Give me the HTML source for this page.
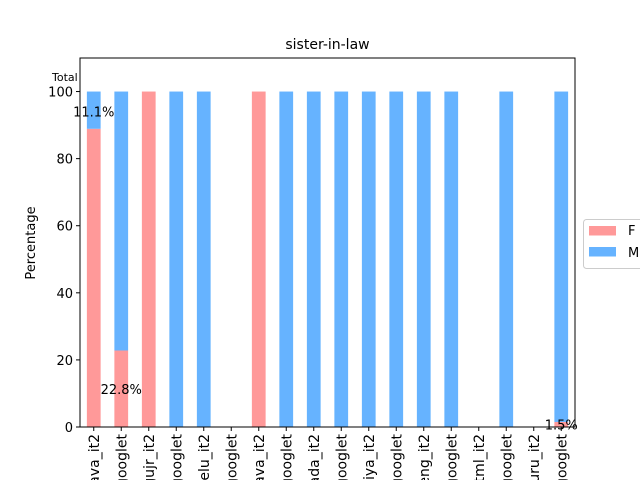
<!DOCTYPE html>
<html><head><meta charset="utf-8"><style>
html,body{margin:0;background:#fff;width:640px;height:480px;overflow:hidden;}
svg{display:block;font-family:"DejaVu Sans","Liberation Sans",sans-serif;overflow:hidden;}
</style></head><body>
<svg id="c" width="640" height="480" xmlns="http://www.w3.org/2000/svg">
<rect width="640" height="480" fill="#fff"/>
<text x="327.5" y="49" font-size="14" text-anchor="middle">sister-in-law</text>
<g id="bars"></g>
<g id="axes"></g>
<text transform="translate(35,243) rotate(-90)" font-size="13" text-anchor="middle">Percentage</text>
<text x="52" y="81" font-size="11">Total</text>
<g>
<rect x="583.5" y="219.5" width="70" height="49" rx="3" fill="#fff" stroke="#ccc"/>
<rect x="589" y="226" width="27" height="9.5" fill="#ff9999"/>
<text x="628" y="235" font-size="13">F</text>
<rect x="589" y="247" width="27" height="9.5" fill="#66b3ff"/>
<text x="628" y="257" font-size="13">M</text>
</g>
</svg>
<script>
const categories=["model_java_it2","model_cs_googlet","model_gujr_it2","model_hi_googlet","model_telu_it2","model_kn_googlet","model_java_it2","model_ta_googlet","model_kanada_it2","model_ml_googlet","model_oriya_it2","model_mr_googlet","model_beng_it2","model_pa_googlet","model_tml_it2","model_ur_googlet","model_guru_it2","model_bn_googlet"];
const fValues=[88.9,22.8,100,0,0,0,100,0,0,0,0,0,0,0,0,0,0,1.5];
const mValues=[11.1,77.2,0,100,100,0,0,100,100,100,100,100,100,100,0,100,0,98.5];
const pctLabels=[{i:0,text:"11.1%",v:94},{i:1,text:"22.8%",v:11.4},{i:17,text:"1.5%",v:0.75}];
const yTicks=[0,20,40,60,80,100];
const NS="http://www.w3.org/2000/svg";
const L=80,R=575,T=58,B=427,YMAX=110;
const xc=i=>L+(R-L)/categories.length*(i+0.5);
const y=v=>B-(B-T)*v/YMAX;
const bw=(R-L)/categories.length*0.5;
function mk(t,a,p){const e=document.createElementNS(NS,t);for(const k in a)e.setAttribute(k,a[k]);p.appendChild(e);return e;}
const bars=document.getElementById('bars'),axes=document.getElementById('axes');
categories.forEach((c,i)=>{
 if(fValues[i]>0){const r=mk('rect',{x:xc(i)-bw/2,y:y(fValues[i]),width:bw,height:y(0)-y(fValues[i]),fill:'#ff9999'},bars);
 
 }
 if(mValues[i]>0){const r=mk('rect',{x:xc(i)-bw/2,y:y(fValues[i]+mValues[i]),width:bw,height:y(fValues[i])-y(fValues[i]+mValues[i]),fill:'#66b3ff'},bars);
 
 }
 mk('line',{x1:xc(i),x2:xc(i),y1:B,y2:B+4,stroke:'#000'},axes);
 const t=mk('text',{transform:`translate(${xc(i)+5},${B+7}) rotate(-90)`,'font-size':14,'text-anchor':'end'},axes);
 t.textContent=c;
 
 
});
yTicks.forEach(v=>{
 mk('line',{x1:L-4,x2:L,y1:y(v),y2:y(v),stroke:'#000'},axes);
 const t=mk('text',{x:L-7,y:y(v)+5,'font-size':13,'text-anchor':'end'},axes);
 t.textContent=v;
 
 
});
pctLabels.forEach(p=>{
 const t=mk('text',{x:xc(p.i),y:y(p.v)+5,'font-size':13,'text-anchor':'middle'},axes);
 t.textContent=p.text;
 
 
});
const f=mk('rect',{x:L,y:T,width:R-L,height:B-T,fill:'none',stroke:'#000','stroke-width':1},axes);


</script>
</body></html>
